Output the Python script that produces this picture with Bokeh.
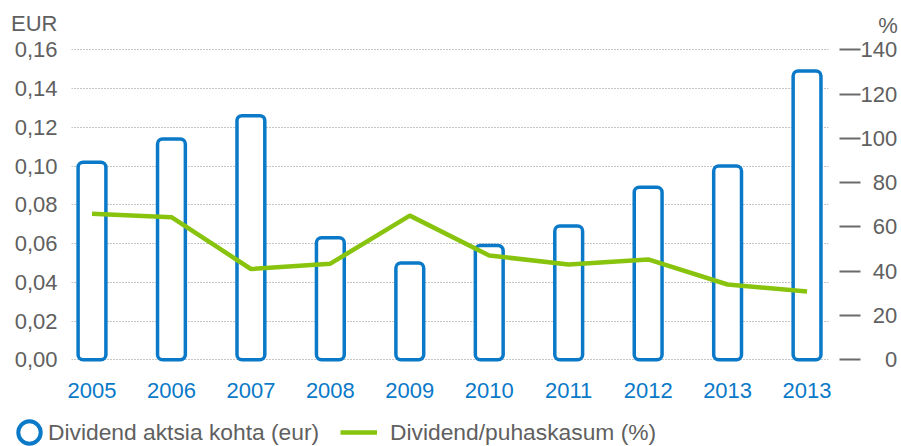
from bokeh.plotting import figure
from bokeh.layouts import column
from bokeh.models import (Range1d, LinearAxis, FixedTicker, Legend, LegendItem,
                          ColumnDataSource)
from bokeh.embed import file_html
from bokeh.resources import INLINE

# ---- data ----
years = ["2005", "2006", "2007", "2008", "2009", "2010", "2011", "2012", "2013", "2013"]
dividend_eur = [0.102, 0.114, 0.126, 0.063, 0.050, 0.059, 0.069, 0.089, 0.100, 0.149]
payout_pct = [66.0, 64.4, 41.0, 43.4, 65.1, 47.1, 43.0, 45.3, 34.0, 30.8]

eur_ticks = [0.0, 0.02, 0.04, 0.06, 0.08, 0.10, 0.12, 0.14, 0.16]
eur_tick_labels = ["0,00", "0,02", "0,04", "0,06", "0,08", "0,10", "0,12", "0,14", "0,16"]
pct_ticks = [0, 20, 40, 60, 80, 100, 120, 140]
pct_tick_labels = ["0", "20", "40", "60", "80", "100", "120", "140"]

eur_unit = "EUR"
pct_unit = "%"
bar_label = "Dividend aktsia kohta (eur)"
line_label = "Dividend/puhaskasum (%)"

# ---- style ----
BLUE = "#0a79c8"
GREEN = "#88c30e"
TEXT = "#606060"
TICK = "#6b6b6b"
FONT = "Liberation Sans"
FS = "22px"
FS_LEG = "22.8px"
FSP = "\u2007"  # figure space (digit width) used to right-align the right labels

idx = list(range(len(years)))
src = ColumnDataSource(dict(x=idx, eur=dividend_eur, pct=payout_pct))

y0, y1 = -0.0045, 0.1813
scale = 140 / 0.16
eur_unit_pos = 0.1736          # height of the "EUR" caption on the left scale
pct_unit_pos = 150.8           # height of the "%" caption on the right scale

p = figure(width=900, height=404, output_backend="svg", toolbar_location=None,
           x_range=Range1d(-0.258, 9.27), y_range=Range1d(y0, y1),
           min_border_left=71, min_border_right=71, min_border_top=8,
           min_border_bottom=36)
p.outline_line_color = None
p.extra_y_ranges = {"pct": Range1d(y0 * scale, y1 * scale)}

# grid
p.xgrid.visible = False
p.ygrid.ticker = FixedTicker(ticks=eur_ticks)
p.ygrid.grid_line_color = "#8a8a8a"
p.ygrid.grid_line_dash = "1 2"
p.ygrid.grid_line_width = 1

# left axis
ya = p.yaxis[0]
ya.ticker = FixedTicker(ticks=eur_ticks + [eur_unit_pos])
ov = {t: l for t, l in zip(eur_ticks, eur_tick_labels)}
ov[eur_unit_pos] = eur_unit
ya.major_label_overrides = ov
ya.axis_line_color = None
ya.major_tick_line_color = None
ya.minor_tick_line_color = None
ya.major_label_standoff = 8
ya.major_label_text_font = FONT
ya.major_label_text_font_size = FS
ya.major_label_text_color = TEXT

# bottom axis
xa = p.xaxis[0]
xa.ticker = FixedTicker(ticks=idx)
xa.major_label_overrides = {i: y for i, y in zip(idx, years)}
xa.axis_line_color = None
xa.major_tick_line_color = None
xa.minor_tick_line_color = None
xa.major_label_standoff = 8
xa.major_label_text_font = FONT
xa.major_label_text_font_size = FS
xa.major_label_text_color = BLUE

# right axis: short dashes as minor ticks, labels on major ticks
width3 = max(len(l) for l in pct_tick_labels)
rov = {t: FSP * (width3 - len(l)) + l for t, l in zip(pct_ticks, pct_tick_labels)}
rov[pct_unit_pos] = FSP + "\u2005" + pct_unit
ra = LinearAxis(y_range_name="pct",
                ticker=FixedTicker(ticks=pct_ticks + [pct_unit_pos], minor_ticks=pct_ticks),
                major_label_overrides=rov,
                major_tick_out=32, major_tick_in=0, major_tick_line_color=None,
                minor_tick_out=32, minor_tick_in=0,
                minor_tick_line_color=TICK, minor_tick_line_width=2,
                minor_tick_line_dash="21 40",
                axis_line_color=None,
                major_label_standoff=0, major_label_text_font=FONT,
                major_label_text_font_size=FS, major_label_text_color=TEXT)
p.add_layout(ra, "right")

# glyphs
p.vbar(x="x", top="eur", bottom=0, width=0.35, source=src,
       fill_color="white", line_color=BLUE, line_width=3.5, border_radius=5)
p.line(x="x", y="pct", source=src, y_range_name="pct",
       line_color=GREEN, line_width=4.5)

# ---- legend strip ----
lg = figure(width=900, height=42, output_backend="svg", toolbar_location=None,
            x_range=Range1d(0, 1), y_range=Range1d(0, 1),
            x_axis_type=None, y_axis_type=None,
            min_border_left=0, min_border_right=0, min_border_top=0,
            min_border_bottom=0)
lg.frame_align = False
lg.outline_line_color = None
lg.grid.visible = False
# legend keys only (placed outside the strip's visible range)
key_bar = lg.ellipse(x=[-10], y=[-10], width=10, height=10,
                     width_units="screen", height_units="screen",
                     line_color=BLUE, line_width=4, fill_color="white")
key_line = lg.line(x=[-10, -9], y=[-10, -10], line_color=GREEN, line_width=4.5)

common = dict(padding=0, margin=0, spacing=0, border_line_color=None,
              background_fill_alpha=0, label_text_font=FONT,
              label_text_font_size=FS_LEG, label_text_color=TEXT)
lg.add_layout(Legend(items=[LegendItem(label=bar_label, renderers=[key_bar])],
                     location=(15, 0), glyph_width=28, glyph_height=28,
                     label_height=28, label_standoff=5, **common))
lg.add_layout(Legend(items=[LegendItem(label=line_label, renderers=[key_line])],
                     location=(340, 0), glyph_width=37, glyph_height=28,
                     label_height=28, label_standoff=13, **common))

open("out.html", "w").write(file_html(column(p, lg, spacing=0), INLINE))
